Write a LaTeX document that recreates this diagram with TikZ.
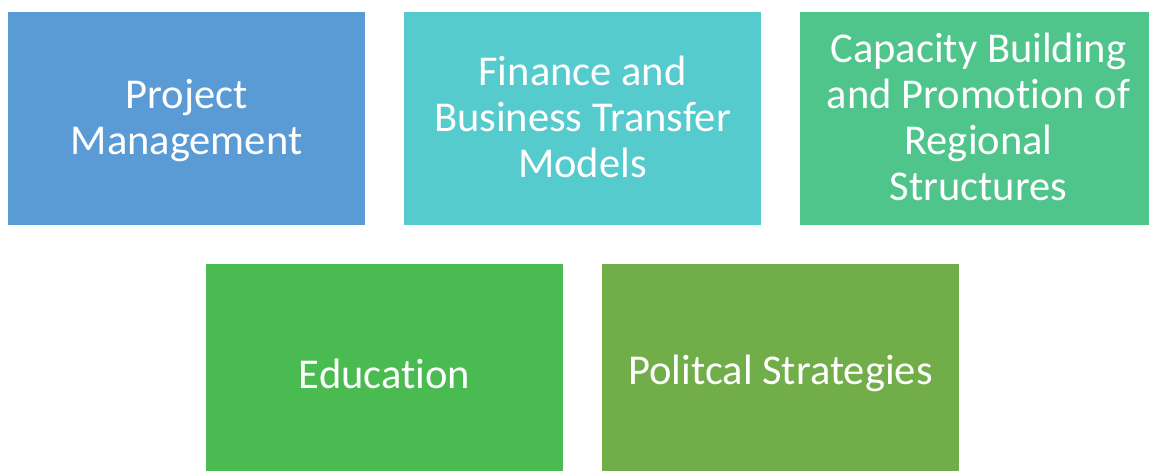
\documentclass[tikz,border=0pt]{standalone}
\usepackage{fontspec}
\setmainfont{Carlito}[Ligatures=NoCommon]
\definecolor{cBlue}{HTML}{5B9BD5}
\definecolor{cTeal}{HTML}{55CBCD}
\definecolor{cMint}{HTML}{4FC48B}
\definecolor{cGreen}{HTML}{4ABB50}
\definecolor{cOlive}{HTML}{71AD48}
\begin{document}
\begin{tikzpicture}[x=1pt,y=-1pt,
  tile/.style={rectangle, minimum width=357pt, minimum height=213pt,
    inner sep=0pt},
  caption/.style={inner sep=0pt, align=center, text=white,
    font=\fontsize{42.5}{46}\selectfont}]
  \useasboundingbox (0,0) rectangle (1149,471);
  \clip (0,0) rectangle (1149,471);
  \fill[white] (0,0) rectangle (1149,471);
  % top row
  \node[tile, fill=cBlue] (pm) at (186.5,118.5) {};
  \node[tile, fill=cTeal] (fin) at (582.5,118.5) {};
  \node[tile, fill=cMint] (cap) at (978.5,118.5) {};
  % bottom row
  \node[tile, fill=cGreen] (edu) at (384.5,370.5) {};
  \node[tile, fill=cOlive] (pol) at (780.5,370.5) {};
  % captions
  \node[caption] (pmT) at ([yshift=-2pt]pm.center) {Project\\Management};
  \node[caption] (finT) at ([yshift=1.5pt]fin.center) {Finance and\\Business Transfer\\Models};
  \node[caption] (capT) at ([yshift=1.5pt]cap.center) {Capacity Building\\and Promotion of\\Regional\\Structures};
  \node[caption] (eduT) at ([yshift=-3pt]edu.center) {Education};
  \node[caption] (polT) at ([yshift=-3pt]pol.center) {Politcal Strategies};
\end{tikzpicture}
\end{document}
